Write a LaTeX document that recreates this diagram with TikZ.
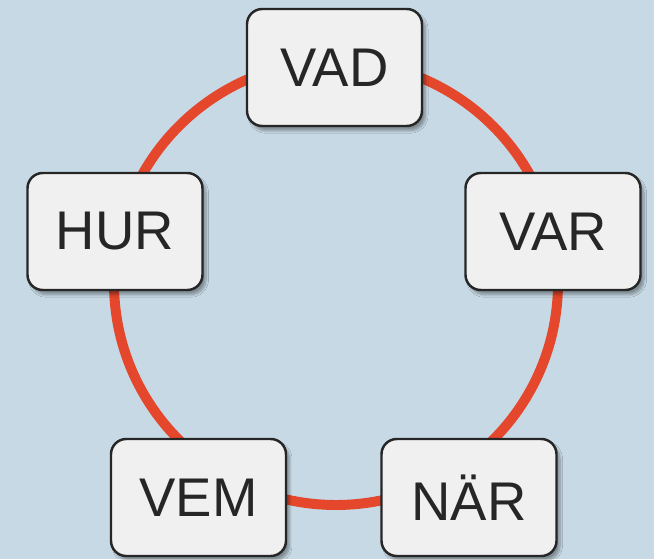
\documentclass[tikz,border=0pt]{standalone}
\usepackage{fontspec}
\setmainfont{Liberation Sans}
\usetikzlibrary{shadows.blur}
\definecolor{bgblue}{HTML}{C6D9E5}
\definecolor{ringred}{HTML}{E4472B}
\definecolor{boxfill}{HTML}{F0F0F0}
\definecolor{boxline}{HTML}{262626}
\begin{document}
\begin{tikzpicture}[x=0.03cm,y=-0.03cm,
  wbox/.style={draw=boxline, fill=boxfill, line width=2.1pt, rounded corners=13pt,
    minimum width=175*0.03cm, minimum height=117*0.03cm, inner sep=0pt,
    text=boxline, font=\fontsize{46.5}{52}\selectfont,
    blur shadow={shadow xshift=3pt, shadow yshift=-4pt, shadow blur steps=8, shadow opacity=35}},
  ring/.style={draw=ringred, line width=8.5pt}]
\fill[bgblue] (0,0) rectangle (654,559);
\useasboundingbox (0,0) rectangle (654,559);
\coordinate (c) at (336,283);
\draw[ring] (c) circle[radius=222*0.03cm];
\node[wbox] (vad) at (334.5,67.5) {VAD};
\node[wbox] (var) at (553,231.5) {VAR};
\node[wbox] (hur) at (115,231.5) {HUR};
\node[wbox] (vem) at (198.5,497.5) {VEM};
\node[wbox] (nar) at (469,497.5) {NÄR};
\end{tikzpicture}
\end{document}
